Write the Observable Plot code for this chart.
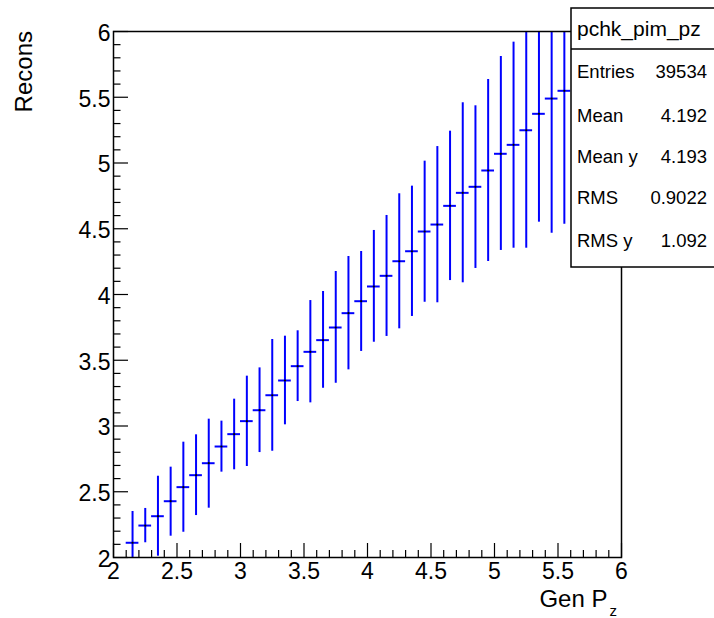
<!DOCTYPE html>
<html><head><meta charset="utf-8">
<script src="https://cdn.jsdelivr.net/npm/d3@7"></script>
<script src="https://cdn.jsdelivr.net/npm/@observablehq/plot@0.6"></script>
<style>
body{margin:0;background:#fff;overflow:hidden}
#chart{width:714px;height:618px}
</style>
</head><body><div id="chart"></div>
<script>
// ---- data ----
const binWidth = 0.1;
const binCenters = [2.15,2.25,2.35,2.45,2.55,2.65,2.75,2.85,2.95,3.05,3.15,3.25,3.35,3.45,3.55,3.65,3.75,3.85,3.95,4.05,4.15,4.25,4.35,4.45,4.55,4.65,4.75,4.85,4.95,5.05,5.15,5.25,5.35,5.45,5.55];
const means = [2.112,2.243,2.314,2.428,2.535,2.626,2.717,2.844,2.938,3.037,3.120,3.234,3.346,3.455,3.564,3.653,3.749,3.858,3.949,4.061,4.142,4.253,4.329,4.479,4.532,4.674,4.773,4.819,4.943,5.070,5.138,5.249,5.374,5.490,5.549];
const lows = [1.874,2.112,2.010,2.162,2.192,2.319,2.375,2.649,2.667,2.692,2.798,2.808,3.009,3.186,3.176,3.287,3.325,3.427,3.567,3.637,3.681,3.739,3.833,3.941,3.937,4.106,4.089,4.198,4.251,4.335,4.352,4.352,4.550,4.466,4.535];
const highs = [2.350,2.373,2.618,2.687,2.877,2.933,3.052,3.037,3.204,3.379,3.442,3.658,3.683,3.724,3.954,4.023,4.175,4.289,4.327,4.487,4.601,4.766,4.824,5.014,5.125,5.242,5.458,5.435,5.635,5.810,5.919,6.146,6.198,6.510,6.560];
const xTicks = [2,2.5,3,3.5,4,4.5,5,5.5,6];
const yTicks = [2,2.5,3,3.5,4,4.5,5,5.5,6];
const xTitle = "Gen P";
const xTitleSub = "z";
const yTitle = "Recons";
const statsTitle = "pchk_pim_pz";
const statLabels = ["Entries","Mean","Mean y","RMS","RMS y"];
const statValues = ["39534","4.192","4.193","0.9022","1.092"];

// ---- build ----
const data = binCenters.map((x, i) => ({
  x, mean: means[i], lo: lows[i], hi: highs[i],
  x1: x - binWidth / 2, x2: x + binWidth / 2
}));
const minorX = d3.range(20, 61).map(d => d / 10).filter(v => !xTicks.some(t => Math.abs(t - v) < 1e-9));
const minorY = d3.range(20, 61).map(d => d / 10).filter(v => !yTicks.some(t => Math.abs(t - v) < 1e-9));

const W = 714, H = 618, mL = 113, mR = 93, mT = 31, mB = 61;
const plotW = W - mL - mR, plotH = H - mT - mB;
const FONT = "'Liberation Sans', Arial, Helvetica, sans-serif";
const BLUE = "#0000ff";

const plot = Plot.plot({
  width: W, height: H,
  marginLeft: mL, marginRight: mR, marginTop: mT, marginBottom: mB,
  style: {fontFamily: FONT, background: "white", color: "black"},
  x: {domain: [2, 6]},
  y: {domain: [2, 6]},
  marks: [
    Plot.ruleX(data, {x: "x", y1: "lo", y2: "hi", stroke: BLUE, strokeWidth: 2, clip: true}),
    Plot.ruleY(data, {y: "mean", x1: "x1", x2: "x2", stroke: BLUE, strokeWidth: 2, clip: true}),
    Plot.dot(data, {x: "x", y: "mean", r: 1.1, fill: "black", stroke: null}),
    Plot.tickX(minorX, {x: d => d, insetTop: plotH - 7, stroke: "black", strokeWidth: 1.2}),
    Plot.tickX(xTicks, {x: d => d, insetTop: plotH - 14, stroke: "black", strokeWidth: 1.2}),
    Plot.tickY(minorY, {y: d => d, insetRight: plotW - 7.5, stroke: "black", strokeWidth: 1.2}),
    Plot.tickY(yTicks, {y: d => d, insetRight: plotW - 15, stroke: "black", strokeWidth: 1.2}),
    Plot.axisX({ticks: xTicks, tickSize: 0, tickPadding: 5, fontSize: 23, tickFormat: d => String(d), label: null}),
    Plot.axisY({ticks: yTicks, tickSize: 0, tickPadding: 3, fontSize: 23, tickFormat: d => String(d), label: null, dy: 2}),
    Plot.frame({stroke: "black", strokeWidth: 1.5})
  ]
});

const svg = d3.select(plot);
const g = svg.append("g").attr("font-family", FONT).attr("fill", "black").attr("text-anchor", "start");

// axis titles
g.append("text")
  .attr("transform", `translate(32,${mT}) rotate(-90)`)
  .attr("text-anchor", "end")
  .attr("font-size", 24)
  .text(yTitle);
const xt = g.append("text")
  .attr("x", 617).attr("y", 607)
  .attr("text-anchor", "end")
  .attr("font-size", 24);
xt.append("tspan").text(xTitle);
xt.append("tspan").attr("font-size", 15).attr("dx", 2).attr("dy", 9).text(xTitleSub);

// stats box
const bx = 571, by = 8, bw = 150, bh = 259, sep = 49;
g.append("rect").attr("x", bx).attr("y", by).attr("width", bw).attr("height", bh)
  .attr("fill", "white").attr("stroke", "black").attr("stroke-width", 1.5);
g.append("line").attr("x1", bx).attr("x2", bx + bw).attr("y1", sep).attr("y2", sep)
  .attr("stroke", "black").attr("stroke-width", 1.5);
g.append("text").attr("x", 577).attr("y", 36).attr("font-size", 21).attr("text-anchor", "start").text(statsTitle);
const rowBase = [78, 121.5, 163, 203.5, 246.5];
statLabels.forEach((lab, i) => {
  g.append("text").attr("x", 577).attr("y", rowBase[i]).attr("font-size", 18.5)
    .attr("text-anchor", "start").text(lab);
  g.append("text").attr("x", 707).attr("y", rowBase[i]).attr("font-size", 18.5)
    .attr("text-anchor", "end").text(statValues[i]);
});

document.getElementById("chart").appendChild(plot);
</script>
</body></html>
